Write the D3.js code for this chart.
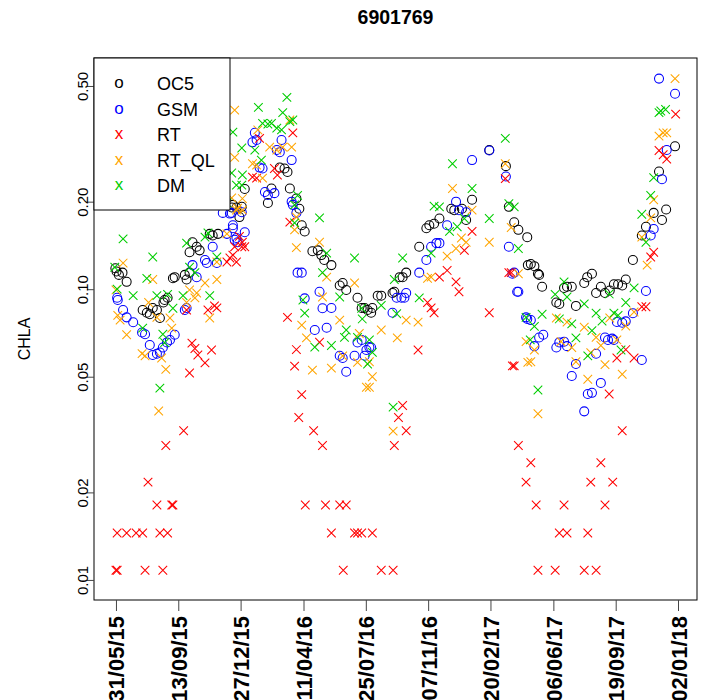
<!DOCTYPE html>
<html><head><meta charset="utf-8">
<script src="https://cdn.jsdelivr.net/npm/d3@7"></script>
<style>body{margin:0;background:#fff}svg{display:block}text{font-family:"Liberation Sans",Arial,sans-serif}</style>
</head><body><div id="chart"></div>
<script>
const title = "6901769";
const yLabel = "CHLA";
const startDate = "2015-05-31";   // day 0 for the [day, value] pairs below
const xTickLabels = ["31/05/15","13/09/15","27/12/15","11/04/16","25/07/16","07/11/16","20/02/17","06/06/17","19/09/17","02/01/18"];
const yTicks = [0.01, 0.02, 0.05, 0.10, 0.20, 0.50];
const seriesNames = ["OC5","GSM","RT","RT_QL","DM"];
const seriesColors = ["#000000","#0000FF","#FF0000","#FFA500","#00CD00"];
const seriesSymbols = ["o","o","x","x","x"];

const OC5 = [[-1,0.118],[1,0.115],[5,0.112],[11,0.114],[18,0.106],[45,0.0848],[52,0.083],[57,0.082],[62,0.0862],[69,0.0848],[74,0.0796],[82,0.0918],[87,0.0934],[80,0.090],[99,0.110],[96,0.109],[116,0.112],[119,0.108],[124,0.114],[124,0.134],[129,0.145],[136,0.140],[141,0.136],[158,0.155],[163,0.153],[172,0.155],[197,0.195],[203,0.191],[212,0.192],[208,0.177],[195,0.191],[217,0.221],[276,0.262],[284,0.260],[289,0.253],[262,0.222],[256,0.198],[293,0.222],[304,0.205],[309,0.189],[313,0.166],[318,0.158],[331,0.135],[340,0.136],[346,0.131],[351,0.126],[363,0.121],[377,0.103],[382,0.105],[388,0.0994],[407,0.0934],[414,0.0862],[419,0.0862],[424,0.0848],[430,0.083],[432,0.0862],[441,0.095],[447,0.095],[466,0.097],[469,0.098],[478,0.110],[483,0.110],[489,0.114],[511,0.140],[523,0.162],[528,0.166],[536,0.168],[545,0.175],[565,0.189],[570,0.187],[583,0.189],[590,0.173],[600,0.203],[629,0.301],[657,0.265],[662,0.192],[671,0.170],[678,0.160],[693,0.151],[694,0.121],[699,0.122],[705,0.120],[711,0.113],[713,0.112],[718,0.102],[742,0.090],[747,0.0889],[755,0.101],[760,0.102],[768,0.102],[775,0.0876],[789,0.105],[794,0.110],[802,0.113],[809,0.097],[817,0.102],[824,0.097],[832,0.099],[839,0.104],[846,0.104],[853,0.103],[859,0.108],[871,0.126],[886,0.153],[893,0.164],[906,0.183],[920,0.173],[927,0.188],[915,0.254],[942,0.310]];

const GSM = [[2,0.0934],[3,0.0918],[12,0.0848],[18,0.080],[29,0.077],[44,0.071],[49,0.070],[57,0.0643],[62,0.0594],[69,0.060],[74,0.0606],[79,0.063],[86,0.0656],[91,0.0669],[99,0.0697],[116,0.0848],[119,0.0862],[129,0.121],[136,0.110],[150,0.126],[153,0.123],[170,0.123],[163,0.140],[187,0.155],[197,0.162],[203,0.150],[217,0.157],[205,0.145],[180,0.183],[192,0.182],[212,0.184],[195,0.183],[197,0.166],[200,0.148],[234,0.345],[230,0.320],[237,0.326],[279,0.326],[271,0.301],[276,0.296],[296,0.278],[242,0.262],[247,0.260],[251,0.216],[256,0.211],[267,0.214],[296,0.200],[298,0.195],[304,0.183],[306,0.114],[313,0.114],[318,0.093],[343,0.098],[348,0.086],[363,0.0862],[335,0.0724],[355,0.0737],[377,0.059],[382,0.058],[388,0.052],[402,0.059],[407,0.0656],[414,0.0669],[419,0.059],[422,0.0618],[427,0.0632],[430,0.063],[466,0.083],[473,0.0934],[481,0.0934],[486,0.0934],[489,0.097],[511,0.114],[523,0.126],[531,0.140],[540,0.144],[545,0.144],[558,0.166],[573,0.200],[578,0.187],[590,0.184],[600,0.278],[629,0.300],[657,0.244],[662,0.140],[668,0.113],[671,0.114],[676,0.098],[678,0.098],[691,0.080],[693,0.079],[699,0.0783],[713,0.0682],[720,0.0697],[705,0.0637],[742,0.063],[747,0.0656],[755,0.066],[760,0.0637],[775,0.0553],[768,0.0503],[795,0.0436],[802,0.044],[789,0.038],[809,0.060],[817,0.0476],[824,0.0682],[829,0.0669],[836,0.0676],[839,0.0669],[844,0.0771],[853,0.0767],[859,0.0775],[871,0.0827],[886,0.0571],[893,0.0986],[901,0.153],[906,0.161],[920,0.239],[928,0.301],[915,0.53],[942,0.47]];

const RT = [[0,0.0108],[2,0.0108],[49,0.0108],[79,0.0108],[383,0.0108],[447,0.0108],[467,0.0108],[711,0.0108],[740,0.0108],[789,0.0108],[809,0.0108],
[2,0.0145],[18,0.0145],[34,0.0145],[45,0.0145],[74,0.0145],[87,0.0145],[363,0.0145],[402,0.0145],[407,0.0145],[414,0.0145],[432,0.0145],[747,0.0145],[760,0.0145],[795,0.0145],
[69,0.0181],[94,0.0181],[96,0.0181],[319,0.0181],[353,0.0181],[377,0.0181],[388,0.0181],[708,0.0181],[755,0.0181],[824,0.0181],
[54,0.0217],[691,0.0217],[800,0.0217],[837,0.0217],[699,0.0253],[817,0.0253],
[84,0.029],[348,0.029],[469,0.029],[678,0.029],[114,0.0326],[333,0.0326],[489,0.0326],[853,0.0326],
[308,0.0362],[476,0.0362],[483,0.0398],[313,0.0434],
[124,0.0515],[128,0.0652],[133,0.0625],[138,0.0594],[150,0.0558],[161,0.0618],[119,0.0848],[155,0.0848],[166,0.0876],[170,0.0862],[187,0.124],[192,0.128],[197,0.131],[203,0.124],[212,0.140],[217,0.140],[200,0.140],[208,0.152],[213,0.145],[230,0.243],[237,0.241],[242,0.330],[267,0.260],[272,0.247],[298,0.345],[293,0.170],[289,0.080],[304,0.062],[301,0.0544],[343,0.0657],[509,0.0618],[558,0.116],[545,0.110],[573,0.106],[578,0.098],[600,0.158],[587,0.136],[525,0.090],[531,0.0862],[536,0.083],[629,0.083],[656,0.240],[662,0.114],[666,0.114],[668,0.0545],[671,0.0545],[831,0.0436],[844,0.058],[859,0.062],[873,0.058],[886,0.087],[893,0.087],[901,0.129],[906,0.134],[915,0.300],[922,0.290],[928,0.280],[943,0.400]];

const RT_QL = [[0,0.0994],[12,0.123],[3,0.0813],[7,0.0783],[18,0.0697],[44,0.060],[49,0.059],[55,0.090],[62,0.108],[69,0.080],[77,0.058],[84,0.053],[72,0.0381],[91,0.0796],[94,0.0735],[119,0.090],[124,0.0994],[133,0.0934],[136,0.097],[150,0.105],[170,0.108],[158,0.0796],[170,0.124],[187,0.155],[203,0.187],[213,0.187],[200,0.413],[200,0.284],[195,0.206],[213,0.205],[205,0.190],[293,0.382],[239,0.353],[259,0.308],[271,0.301],[281,0.308],[296,0.308],[230,0.270],[237,0.267],[247,0.241],[304,0.177],[301,0.160],[304,0.139],[343,0.145],[355,0.110],[402,0.105],[348,0.094],[313,0.0752],[321,0.068],[377,0.0783],[410,0.0704],[382,0.059],[407,0.056],[331,0.0527],[363,0.0535],[432,0.050],[422,0.046],[447,0.0724],[489,0.0783],[509,0.077],[474,0.068],[427,0.0563],[427,0.046],[467,0.0325],[531,0.110],[525,0.109],[558,0.130],[573,0.138],[582,0.150],[590,0.145],[567,0.222],[600,0.187],[629,0.145],[656,0.270],[666,0.163],[678,0.113],[691,0.066],[694,0.056],[742,0.0796],[760,0.077],[705,0.0618],[750,0.066],[768,0.063],[789,0.074],[809,0.0683],[817,0.064],[832,0.0796],[844,0.0669],[859,0.0747],[873,0.0835],[800,0.0605],[824,0.055],[853,0.051],[775,0.0563],[795,0.049],[699,0.0563],[711,0.0373],[886,0.151],[895,0.121],[901,0.176],[906,0.203],[915,0.336],[922,0.345],[928,0.345],[942,0.53]];

const DM = [[-2,0.119],[2,0.100],[12,0.149],[29,0.095],[45,0.0735],[52,0.109],[62,0.129],[69,0.095],[74,0.0457],[79,0.070],[82,0.0655],[87,0.096],[96,0.086],[113,0.095],[119,0.144],[124,0.119],[133,0.114],[150,0.151],[155,0.156],[158,0.095],[170,0.129],[187,0.198],[197,0.347],[240,0.422],[288,0.457],[281,0.405],[293,0.377],[298,0.382],[247,0.372],[256,0.370],[262,0.372],[271,0.358],[279,0.353],[212,0.306],[234,0.301],[245,0.278],[195,0.251],[213,0.247],[203,0.228],[212,0.228],[306,0.210],[301,0.195],[301,0.169],[343,0.176],[355,0.133],[402,0.128],[348,0.114],[315,0.0918],[318,0.0827],[377,0.094],[335,0.0632],[363,0.064],[388,0.0724],[385,0.0683],[414,0.086],[415,0.079],[407,0.0683],[427,0.0669],[432,0.0606],[424,0.0553],[447,0.088],[473,0.0823],[483,0.128],[469,0.108],[467,0.0393],[511,0.0934],[531,0.133],[536,0.193],[545,0.192],[562,0.158],[575,0.164],[587,0.175],[567,0.270],[600,0.222],[629,0.175],[656,0.330],[662,0.197],[671,0.192],[678,0.138],[691,0.080],[755,0.106],[740,0.096],[760,0.094],[789,0.089],[718,0.082],[705,0.0745],[747,0.079],[768,0.076],[775,0.068],[802,0.072],[809,0.0827],[819,0.0777],[831,0.0963],[839,0.0827],[846,0.0813],[859,0.090],[873,0.101],[851,0.0618],[795,0.059],[698,0.0669],[711,0.045],[918,0.410],[926,0.415],[915,0.405],[906,0.242],[901,0.210],[886,0.181],[893,0.145]];

const seriesData = [OC5, GSM, RT, RT_QL, DM];

const W = 704, H = 700;
const plot = {left: 94, right: 697, top: 58, bottom: 600};
const svg = d3.select("#chart").append("svg").attr("width", W).attr("height", H);

const parseTick = d3.timeParse("%d/%m/%y");
const day0 = d3.timeParse("%Y-%m-%d")(startDate);
const toDate = d => d3.timeDay.offset(day0, d);
const x = d3.scaleTime()
  .domain([d3.timeDay.offset(day0, -37), d3.timeDay.offset(parseTick("02/01/18"), 32)])
  .range([plot.left, plot.right]);
const y = d3.scaleLog().domain([0.00853, 0.624]).range([plot.bottom, plot.top]);

// points
seriesData.forEach((data, i) => {
  const g = svg.append("g").attr("fill", "none").attr("stroke", seriesColors[i]).attr("stroke-width", 1.05);
  if (seriesSymbols[i] === "o") {
    g.selectAll("circle").data(data).join("circle")
      .attr("cx", d => x(toDate(d[0]))).attr("cy", d => y(d[1])).attr("r", 4.5);
  } else {
    const s = 4.3;
    g.selectAll("path").data(data).join("path")
      .attr("d", d => { const cx = x(toDate(d[0])), cy = y(d[1]);
        return `M${cx-s},${cy-s}L${cx+s},${cy+s}M${cx-s},${cy+s}L${cx+s},${cy-s}`; });
  }
});

// box
svg.append("rect").attr("x", plot.left).attr("y", plot.top)
  .attr("width", plot.right - plot.left).attr("height", plot.bottom - plot.top)
  .attr("fill", "none").attr("stroke", "#000").attr("stroke-width", 1);

// y axis
const yAxis = svg.append("g").attr("transform", `translate(${plot.left},0)`)
  .call(d3.axisLeft(y).tickValues(yTicks).tickSize(7).tickFormat(d3.format(".2f")));
yAxis.select(".domain").remove();
yAxis.selectAll("line").attr("stroke", "#444");
yAxis.selectAll("text").attr("font-size", 15).attr("fill", "#000")
  .attr("text-anchor", "middle").attr("dy", null).attr("x", null)
  .attr("transform", "translate(-6,0) rotate(-90)").attr("y", 0);

// x axis
const xTickDates = xTickLabels.map(parseTick);
const xAxis = svg.append("g").attr("transform", `translate(0,${plot.bottom})`)
  .call(d3.axisBottom(x).tickValues(xTickDates).tickSize(11).tickFormat((d, i) => xTickLabels[i]));
xAxis.select(".domain").remove();
xAxis.selectAll("line").attr("stroke", "#444");
xAxis.selectAll("text").attr("font-size", 22).attr("font-weight", "bold").attr("fill", "#000")
  .attr("text-anchor", "end").attr("dy", null).attr("y", null)
  .attr("transform", "translate(8,16) rotate(-90)").attr("x", 0);

// title & y label
svg.append("text").attr("x", (plot.left + plot.right) / 2).attr("y", 24)
  .attr("text-anchor", "middle").attr("font-weight", "bold").attr("font-size", 19.5).text(title);
svg.append("text").attr("transform", `translate(30,${(plot.top + plot.bottom) / 2 + 10}) rotate(-90)`)
  .attr("text-anchor", "middle").attr("font-size", 16).text(yLabel);

// legend
const lg = svg.append("g");
lg.append("rect").attr("x", plot.left).attr("y", plot.top).attr("width", 136).attr("height", 152)
  .attr("fill", "#fff").attr("stroke", "#000").attr("stroke-width", 1);
seriesNames.forEach((n, i) => {
  const cy = plot.top + 25 + i * 25.5;
  lg.append("text").attr("x", 119).attr("y", cy + 5).attr("text-anchor", "middle")
    .attr("font-size", 17).attr("fill", seriesColors[i]).text(seriesSymbols[i]);
  lg.append("text").attr("x", 157).attr("y", cy + 7).attr("font-size", 18).attr("fill", "#000").text(n);
});
</script></body></html>
